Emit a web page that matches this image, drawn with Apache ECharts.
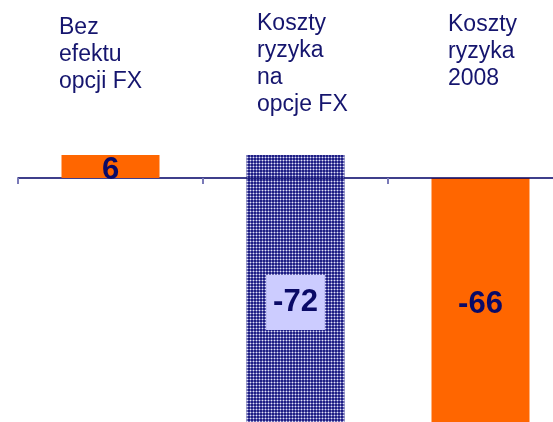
<!DOCTYPE html>
<html><head><meta charset="utf-8">
<script src="https://cdn.jsdelivr.net/npm/echarts@6/dist/echarts.min.js"></script>
<style>html,body{margin:0;padding:0;background:#fff}#c{width:553px;height:422px}</style>
</head><body><div id="c"></div>
<script>
// Waterfall: start value, change, end value
const categories = ['Bez\nefektu\nopcji FX', 'Koszty\nryzyka\nna\nopcje FX', 'Koszty\nryzyka\n2008'];
const values = [6, -72, -66];
const kinds = ['total', 'delta', 'total'];

// bar extents derived from data
const ranges = [];
let running = 0;
values.forEach((v, i) => {
  if (kinds[i] === 'total') { ranges.push([0, v]); running = v; }
  else { ranges.push([running, running + v]); running += v; }
});
const posPart = ranges.map(r => Math.max(Math.max(r[0], r[1]), 0));
const negPart = ranges.map(r => Math.min(Math.min(r[0], r[1]), 0));

const pc = document.createElement('canvas'); pc.width = 3; pc.height = 3;
const g = pc.getContext('2d');
g.fillStyle = '#1e1e84'; g.fillRect(0, 0, 3, 3);
g.fillStyle = '#6a6ab4'; g.fillRect(1, 0, 1, 3); g.fillRect(0, 1, 3, 1);
g.fillStyle = '#e4e4f6'; g.fillRect(1, 1, 1, 1);
const pattern = { image: pc, repeat: 'repeat' };

const ORANGE = '#ff6600';
const NAVY = '#0a0a66';
const fillFor = i => kinds[i] === 'delta' ? pattern : ORANGE;
const valueFont = { fontFamily: '"Liberation Sans", Arial, sans-serif', fontWeight: 'bold', fontSize: 31, color: NAVY };

const chart = echarts.init(document.getElementById('c'), null, { renderer: 'canvas' });
chart.setOption({
  animation: false,
  grid: { left: 18, right: -20, top: 139.67, bottom: -62.67, containLabel: false, outerBoundsMode: 'none' },
  xAxis: {
    type: 'category', data: categories.map((c, i) => 'c' + i), z: 3,
    axisLine: { onZero: true, lineStyle: { color: '#000066', width: 1.5 } },
    axisTick: { show: true, alignWithLabel: false, length: 6, lineStyle: { color: '#7a7ab8', width: 2 } },
    axisLabel: { show: false }, splitLine: { show: false }
  },
  yAxis: {
    type: 'value', min: -80, max: 10, show: false, splitLine: { show: false }
  },
  graphic: categories.map((c, i) => ({
    type: 'text', left: [59, 257, 448][i], top: [14, 10, 11][i],
    style: { text: c, font: '23px "Liberation Sans", Arial, sans-serif', lineHeight: 27, fill: '#15156e' }
  })),
  series: [
    {
      type: 'bar', stack: 'w', barWidth: 98, z: 4,
      data: posPart.map((v, i) => ({
        value: v, itemStyle: { color: fillFor(i) },
        label: { show: values[i] > 0, position: 'inside', offset: [0, 4], formatter: String(values[i]), ...valueFont }
      }))
    },
    {
      type: 'bar', stack: 'w', barWidth: 98, z: 1,
      data: negPart.map((v, i) => ({
        value: v, itemStyle: { color: fillFor(i) },
        label: kinds[i] === 'delta'
          ? { show: values[i] < 0, position: 'inside', offset: [0, -2], formatter: String(values[i]), ...valueFont,
              backgroundColor: '#ccccff', padding: [12, 7, 12, 7], lineHeight: 31 }
          : { show: values[i] < 0, position: 'inside', formatter: String(values[i]), ...valueFont }
      }))
    }
  ]
});
</script></body></html>
